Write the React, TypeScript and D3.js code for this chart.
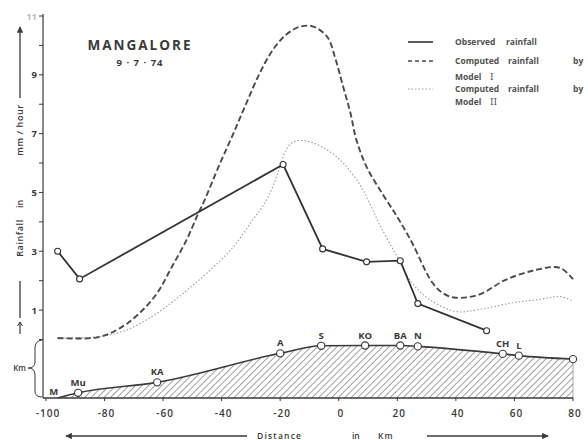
import React from 'react';
import * as d3 from 'd3';

// terrain stations along the section (km from coast line reference, height in km)
const stationNames = ['M', 'Mu', 'KA', 'A', 'S', 'KO', 'BA', 'N', 'CH', 'L', ''];
const stationKm = [-96, -89, -62, -20, -6, 9, 21, 27, 56, 61.5, 80];
const stationHeight = [0, 0.09, 0.27, 0.77, 0.9, 0.905, 0.905, 0.89, 0.76, 0.73, 0.67];

// observed rainfall (mm/hour)
const obsKm = [-96, -88.5, -19, -5.5, 9.5, 21, 27, 50.5];
const obsRain = [3.0, 2.06, 5.95, 3.08, 2.64, 2.68, 1.22, 0.3];

// computed rainfall, model I
const model1Km = [-96, -82, -74, -68, -62, -57, -52, -48.5, -46, -40.5, -36, -31.5, -27, -22.5, -18, -13.5, -9, -4, -1, 1.5, 4, 6, 9.5, 14, 18.5, 21, 25, 32, 36, 40, 48, 57, 67.5, 75.5, 80];
const model1Rain = [0.05, 0.08, 0.43, 0.9, 1.58, 2.47, 3.38, 4.17, 4.7, 6.0, 7.0, 8.05, 9.05, 9.85, 10.36, 10.63, 10.65, 10.3, 9.5, 8.6, 7.7, 6.8, 5.87, 5.1, 4.4, 4.0, 3.3, 1.93, 1.55, 1.42, 1.53, 2.03, 2.37, 2.44, 2.05];

// computed rainfall, model II
const model2Km = [-96, -82, -72.5, -62, -53, -45, -36, -29.5, -25.5, -22.5, -20, -18, -15.5, -11, -4, 1.5, 7, 10.5, 14, 20, 25, 31, 40, 48, 59.5, 68.5, 75.5, 80];
const model2Rain = [0.05, 0.1, 0.32, 0.9, 1.58, 2.26, 3.15, 4.05, 4.6, 5.2, 5.9, 6.45, 6.72, 6.75, 6.45, 6.0, 5.3, 4.64, 3.9, 2.8, 1.93, 1.36, 0.95, 1.02, 1.25, 1.36, 1.46, 1.3];

const xTicks = [-100, -80, -60, -40, -20, 0, 20, 40, 60, 80];
const yTicks = [0, 1, 2, 3, 4, 5, 6, 7, 8, 9, 10, 11];
const yTickLabels = [1, 3, 5, 7, 9, 11];

const INK = '#3a3a3a';
const FONT = '"Open Sans", "DejaVu Sans", sans-serif';

export default function App() {
  const x = d3.scaleLinear().domain([-101, 80]).range([43, 573]);
  const y = d3.scaleLinear().domain([0, 11]).range([339.5, 16]);
  const yKm = d3.scaleLinear().domain([0, 1]).range([398, 340]);

  const terrain = stationKm.map((k, i) => [k, stationHeight[i]] as [number, number]);
  const terrainArea = d3.area<[number, number]>()
    .x(d => x(d[0]))
    .y0(yKm(0))
    .y1(d => yKm(d[1]))
    .curve(d3.curveMonotoneX);
  const terrainLine = d3.line<[number, number]>()
    .x(d => x(d[0]))
    .y(d => yKm(d[1]))
    .curve(d3.curveMonotoneX);

  const rainLine = d3.line<[number, number]>()
    .x(d => x(d[0]))
    .y(d => y(d[1]));
  const smooth = d3.line<[number, number]>()
    .x(d => x(d[0]))
    .y(d => y(d[1]))
    .curve(d3.curveCatmullRom.alpha(0.5));

  const obs = obsKm.map((k, i) => [k, obsRain[i]] as [number, number]);
  const m1 = model1Km.map((k, i) => [k, model1Rain[i]] as [number, number]);
  const m2 = model2Km.map((k, i) => [k, model2Rain[i]] as [number, number]);

  const axisX = x(-101);
  const baseY = yKm(0);

  return (
    <svg width={588} height={440} style={{ position: 'absolute', left: 0, top: 0, background: '#fff' }}
      fontFamily={FONT}>
      <defs>
        <pattern id="hatch" width={4.6} height={4.6} patternUnits="userSpaceOnUse" patternTransform="rotate(45)">
          <line x1={0} y1={0} x2={0} y2={4.6} stroke="#444" strokeWidth={1} />
        </pattern>
        <marker id="ah" viewBox="0 0 10 10" refX={9} refY={5} markerWidth={7} markerHeight={5} orient="auto">
          <path d="M0,0 L10,5 L0,10 z" fill={INK} />
        </marker>
      </defs>

      {/* terrain */}
      <path d={terrainArea(terrain) ?? ''} fill="url(#hatch)" />
      <line x1={x(80)} x2={x(80)} y1={yKm(stationHeight[stationHeight.length - 1])} y2={baseY} stroke="#777" strokeWidth={0.6} />
      <path d={terrainLine(terrain) ?? ''} fill="none" stroke={INK} strokeWidth={1.6} />
      {terrain.map((d, i) => i === 0 ? null : (
        <circle key={'tc' + i} cx={x(d[0])} cy={yKm(d[1])} r={3.6} fill="#fff" stroke={INK} strokeWidth={1.1} />
      ))}
      {stationNames.map((n, i) => (
        <text key={'tn' + i} x={x(stationKm[i]) - (i === 0 ? 4 : 0)} y={yKm(stationHeight[i]) - (i === 0 ? 3 : 7)}
          textAnchor="middle" fontSize={9.5} fontWeight={700} fill={INK}>{n}</text>
      ))}

      {/* axes */}
      <line x1={axisX} x2={axisX} y1={14} y2={baseY} stroke={INK} strokeWidth={1.2} />
      <line x1={axisX} x2={x(80)} y1={baseY} y2={baseY} stroke={INK} strokeWidth={1.4} />
      {yTicks.map(t => (
        <line key={'yt' + t} x1={axisX - 4} x2={axisX} y1={y(t)} y2={y(t)} stroke={INK} strokeWidth={1} />
      ))}
      {yTickLabels.map(t => (
        <text key={'yl' + t} x={37} y={y(t) + 3.5} textAnchor="end" fontSize={9.5} fontWeight={700}
          fill={INK} opacity={t === 11 ? 0.35 : 1}>{t}</text>
      ))}
      {xTicks.map(t => (
        <g key={'xt' + t}>
          <line x1={x(t)} x2={x(t)} y1={baseY} y2={baseY + 3} stroke={INK} strokeWidth={1} />
          <text x={x(t) + 2} y={417} textAnchor="middle" fontSize={10} fontWeight={600} letterSpacing={1} fill={INK}>
            {t < 0 ? '-' + Math.abs(t) : String(t)}
          </text>
        </g>
      ))}

      {/* km brace */}
      <path d="M42,340 Q35,341 35,348 L35,362 Q35,368 28,368 Q35,368 35,375 L35,391 Q35,397 42,397"
        fill="none" stroke={INK} strokeWidth={1} />
      <text x={26} y={371} textAnchor="end" fontSize={8} fontWeight={600} fill={INK}>Km</text>

      {/* y label */}
      <line x1={20} x2={20} y1={98} y2={27} stroke={INK} strokeWidth={1.3} markerEnd="url(#ah)" />
      <text transform="translate(23,130) rotate(-90)" textAnchor="middle" fontSize={9} fontWeight={600} letterSpacing={0.6} fill={INK}>mm / hour</text>
      <text transform="translate(23,204) rotate(-90)" textAnchor="middle" fontSize={9} fontWeight={600} fill={INK}>in</text>
      <text transform="translate(23,238) rotate(-90)" textAnchor="middle" fontSize={9} fontWeight={600} letterSpacing={0.6} fill={INK}>Rainfall</text>
      <line x1={20} x2={20} y1={281} y2={318} stroke={INK} strokeWidth={1.3} />
      <line x1={20} x2={20} y1={322} y2={334} stroke={INK} strokeWidth={1.2} />
      <path d="M17.5,326 L20,322 L22.5,326" fill="none" stroke={INK} strokeWidth={1} />

      {/* x label */}
      <line x1={247} x2={66} y1={436} y2={436} stroke={INK} strokeWidth={1.3} markerEnd="url(#ah)" />
      <line x1={427} x2={548} y1={436} y2={436} stroke={INK} strokeWidth={1.3} markerEnd="url(#ah)" />
      <text x={257} y={439} fontSize={8.5} fontWeight={600} letterSpacing={1.2} fill={INK}>Distance</text>
      <text x={352} y={439} fontSize={8.5} fontWeight={600} fill={INK}>in</text>
      <text x={378} y={439} fontSize={8.5} fontWeight={600} letterSpacing={1} fill={INK}>Km</text>

      {/* rainfall curves */}
      <path d={smooth(m2) ?? ''} fill="none" stroke="#9a9a9a" strokeWidth={1.1} strokeDasharray="1.5 2" />
      <path d={smooth(m1) ?? ''} fill="none" stroke="#4a4a4a" strokeWidth={1.9} strokeDasharray="6 3" />
      <path d={rainLine(obs) ?? ''} fill="none" stroke="#333" strokeWidth={1.8} />
      {obs.map((d, i) => (
        <circle key={'oc' + i} cx={x(d[0])} cy={y(d[1])} r={3} fill="#fff" stroke="#333" strokeWidth={1.1} />
      ))}

      {/* title */}
      <text x={140} y={50} textAnchor="middle" fontSize={13.5} fontWeight={700} letterSpacing={2} fill={INK}>MANGALORE</text>
      <text x={140} y={66} textAnchor="middle" fontSize={9.5} fontWeight={700} letterSpacing={1} fill={INK}>9 · 7 · 74</text>

      {/* legend */}
      <g fontSize={8.5} fontWeight={700} fill="#505050">
        <line x1={408} x2={433} y1={42} y2={42} stroke="#333" strokeWidth={1.6} />
        <text x={455} y={45}>Observed</text>
        <text x={506} y={45}>rainfall</text>
        <line x1={408} x2={433} y1={61} y2={61} stroke="#4a4a4a" strokeWidth={1.6} strokeDasharray="4 3" />
        <text x={455} y={64}>Computed</text>
        <text x={508} y={64}>rainfall</text>
        <text x={573} y={64}>by</text>
        <text x={455} y={80}>Model</text>
        <text x={490} y={80} fontFamily='"DejaVu Serif", serif' fontWeight={400} fontSize={9}>I</text>
        <line x1={408} x2={433} y1={89} y2={89} stroke="#9a9a9a" strokeWidth={1.1} strokeDasharray="1.5 2" />
        <text x={455} y={92}>Computed</text>
        <text x={508} y={92}>rainfall</text>
        <text x={573} y={92}>by</text>
        <text x={455} y={105}>Model</text>
        <text x={490} y={105} fontFamily='"DejaVu Serif", serif' fontWeight={400} fontSize={9}>II</text>
      </g>
    </svg>
  );
}
